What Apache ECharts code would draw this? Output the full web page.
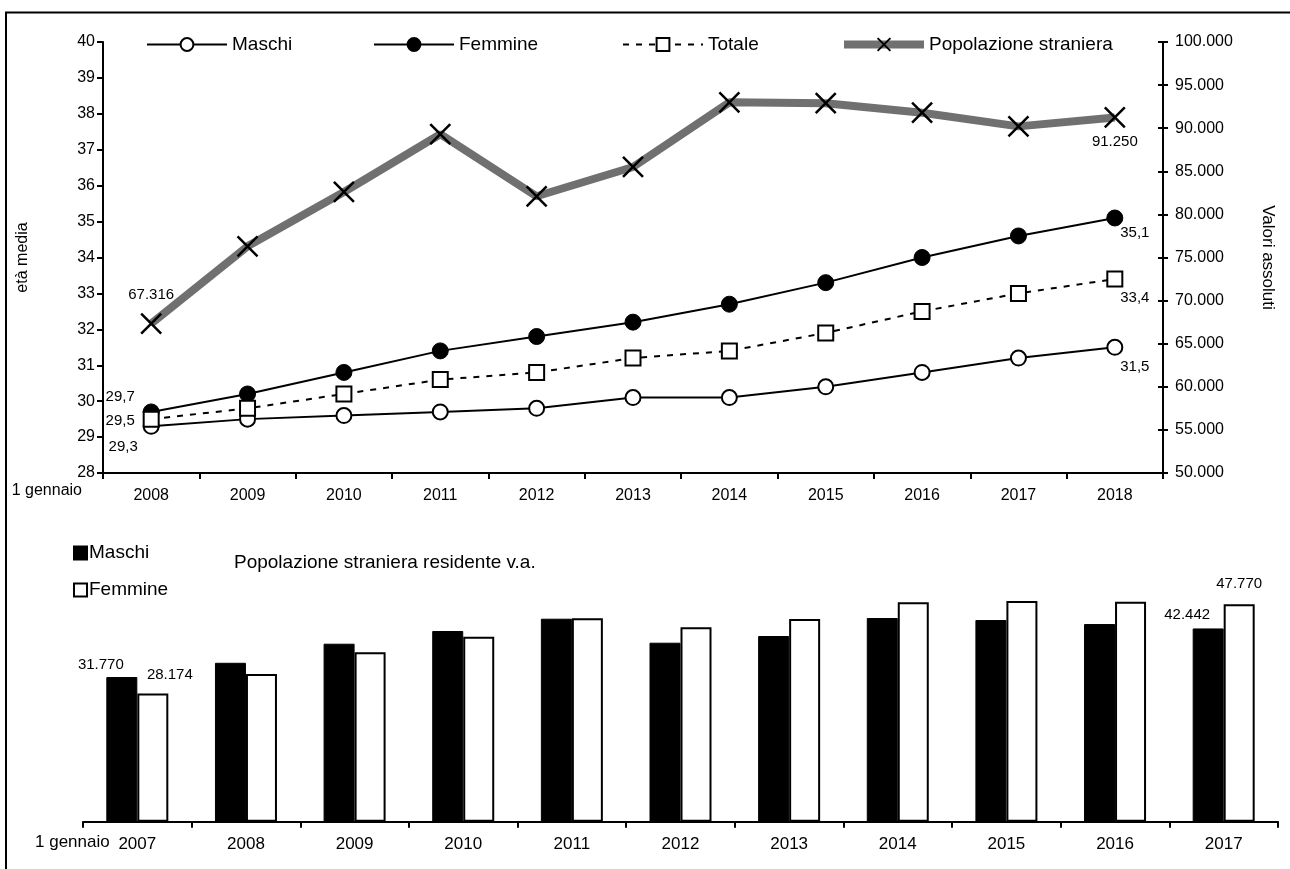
<!DOCTYPE html>
<html>
<head>
<meta charset="utf-8">
<script src="https://cdn.jsdelivr.net/npm/echarts@6/dist/echarts.min.js"></script>
<style>
html,body{margin:0;padding:0;background:#fff;}
#chart{width:1290px;height:869px;}
</style>
</head>
<body>
<div id="chart"></div>
<script>
// ---- Data ----
const years = ['2008','2009','2010','2011','2012','2013','2014','2015','2016','2017','2018'];
const maschiEta = [29.3,29.5,29.6,29.7,29.8,30.1,30.1,30.4,30.8,31.2,31.5];
const femmineEta = [29.7,30.2,30.8,31.4,31.8,32.2,32.7,33.3,34.0,34.6,35.1];
const totaleEta = [29.5,29.8,30.2,30.6,30.8,31.2,31.4,31.9,32.5,33.0,33.4];
const popStraniera = [67316,76300,82600,89300,82100,85500,93000,92900,91800,90212,91250];

const barYears = ['2007','2008','2009','2010','2011','2012','2013','2014','2015','2016','2017'];
const barMaschi = [31770,34900,39090,41880,44580,39310,40780,44730,44290,43410,42442];
const barFemmine = [28174,32440,37200,40630,44700,42690,44510,48180,48470,48310,47770];

const leftTicks = {min:28, max:40, interval:1};
const rightTicks = {min:50000, max:100000, interval:5000};

// ---- Helpers ----
const FONT = "'Liberation Sans', Arial, sans-serif";
const thou = v => String(Math.round(v)).replace(/\B(?=(\d{3})+(?!\d))/g, '.');
const dec = v => Number(v).toFixed(1).replace('.', ',');

function labelled(arr, idxOffsets, fmt) {
  return arr.map((v, i) => {
    if (idxOffsets[i] === undefined) return v;
    return {value: v, label: {show: true, position: 'inside', offset: idxOffsets[i],
      formatter: p => fmt(p.value), fontSize: 15, color: '#000', fontFamily: FONT}};
  });
}
const last = years.length - 1;
const mOff = {}; mOff[0] = [-28, 21]; mOff[last] = [20, 20];
const fOff = {}; fOff[0] = [-31, -15]; fOff[last] = [20, 15];
const tOff = {}; tOff[0] = [-31, 2]; tOff[last] = [20, 19];
const pOff = {}; pOff[0] = [0, -29]; pOff[last] = [0, 24];

function barLabelled(arr, offs) {
  return arr.map((v, i) => {
    if (offs[i] === undefined) return v;
    return {value: v, label: {show: true, position: 'top', offset: offs[i],
      formatter: p => thou(p.value), fontSize: 15, color: '#000', fontFamily: FONT}};
  });
}
const bmOff = {}; bmOff[0] = [-21, 0]; bmOff[barYears.length - 1] = [-21, -1];
const bfOff = {}; bfOff[0] = [17, -6]; bfOff[barYears.length - 1] = [0, -8];

const chart = echarts.init(document.getElementById('chart'), null, {renderer: 'canvas'});

const axisLineStyle = {color: '#000', width: 2};
const tickLabel = {color: '#000', fontSize: 16, fontFamily: FONT};
const tickLabelB = {color: '#000', fontSize: 17, fontFamily: FONT};
const xMark = 'path://M0,0L20,20M20,0L0,20';
const POP_GRAY = '#707070';

const legendText = {color: '#000', fontSize: 19, fontFamily: FONT};
function topLegend(name, left, extra) {
  return Object.assign({data: [name], left: left, top: 35, itemWidth: 80, itemHeight: 16, itemGap: 0,
    textStyle: legendText, padding: 0, selectedMode: false}, extra || {});
}

const option = {
  animation: false,
  backgroundColor: '#fff',
  textStyle: {fontFamily: FONT},
  graphic: [
    {type: 'rect', shape: {x: 6, y: 12.5, width: 1400, height: 1000},
     style: {fill: 'none', stroke: '#000', lineWidth: 2}, silent: true},
    {type: 'text', right: 1290 - 82, top: 483,
     style: {text: '1 gennaio', fill: '#000', font: '16px ' + FONT}},
    {type: 'text', left: 35, top: 834,
     style: {text: '1 gennaio', fill: '#000', font: '17px ' + FONT}},
    {type: 'text', left: 234, top: 553,
     style: {text: 'Popolazione straniera residente v.a.', fill: '#000', font: '19px ' + FONT}}
  ],
  legend: [
    topLegend('Maschi', 146),
    topLegend('Femmine', 373),
    topLegend('Totale', 622),
    topLegend('Popolazione straniera', 840, {lineStyle: {width: 8, color: POP_GRAY}}),
    {data: ['Maschi ', 'Femmine '], orient: 'vertical', left: 73, top: 542,
     itemWidth: 13, itemHeight: 13, itemGap: 15, icon: 'rect', padding: 0,
     selectedMode: false, formatter: n => n.trim(),
     textStyle: Object.assign({lineHeight: 22, padding: [0, 0, 0, -3]}, legendText)}
  ],
  grid: [
    {left: 103, right: 127, top: 42, height: 431},
    {left: 83, right: 12, top: 548.5, height: 273.2}
  ],
  xAxis: [
    {type: 'category', gridIndex: 0, data: years, boundaryGap: true,
     axisLine: {lineStyle: axisLineStyle},
     axisTick: {show: true, length: 6, lineStyle: {color: '#000', width: 2}},
     axisLabel: Object.assign({margin: 15}, tickLabel)},
    {type: 'category', gridIndex: 1, data: barYears, boundaryGap: true,
     axisLine: {lineStyle: axisLineStyle},
     axisTick: {show: true, length: 6, lineStyle: {color: '#000', width: 2}},
     axisLabel: Object.assign({margin: 14}, tickLabelB)}
  ],
  yAxis: [
    {type: 'value', gridIndex: 0, position: 'left', min: leftTicks.min, max: leftTicks.max,
     interval: leftTicks.interval, name: 'età media', nameLocation: 'middle', nameGap: 72,
     nameRotate: 90, nameTextStyle: {color: '#000', fontSize: 16, fontFamily: FONT},
     axisLine: {show: true, lineStyle: axisLineStyle},
     axisTick: {show: true, length: 6, lineStyle: {color: '#000', width: 2}},
     axisLabel: Object.assign({margin: 8}, tickLabel), splitLine: {show: false}},
    {type: 'value', gridIndex: 0, position: 'right', min: rightTicks.min, max: rightTicks.max,
     interval: rightTicks.interval, name: 'Valori assoluti', nameLocation: 'middle', nameGap: 96,
     nameRotate: -90, nameTextStyle: {color: '#000', fontSize: 17, fontFamily: FONT},
     axisLine: {show: true, lineStyle: axisLineStyle},
     axisTick: {show: true, length: 5, lineStyle: {color: '#000', width: 2}},
     axisLabel: Object.assign({margin: 12, formatter: v => thou(v)}, tickLabel),
     splitLine: {show: false}},
    {type: 'value', gridIndex: 0, position: 'right', min: rightTicks.min, max: rightTicks.max,
     interval: rightTicks.interval,
     axisLine: {show: false}, axisLabel: {show: false}, splitLine: {show: false},
     axisTick: {show: true, inside: true, length: 5, lineStyle: {color: '#000', width: 2}}},
    {type: 'value', gridIndex: 1, min: 0, max: 60000, show: false, splitLine: {show: false}}
  ],
  series: [
    {name: 'Popolazione straniera', type: 'line', xAxisIndex: 0, yAxisIndex: 1,
     data: labelled(popStraniera, pOff, thou), symbol: xMark, symbolSize: 20, showAllSymbol: true,
     lineStyle: {color: POP_GRAY, width: 8},
     itemStyle: {color: 'rgba(0,0,0,0)', borderColor: '#000', borderWidth: 2.5}, z: 2},
    {name: 'Maschi', type: 'line', xAxisIndex: 0, yAxisIndex: 0,
     data: labelled(maschiEta, mOff, dec), symbol: 'circle', symbolSize: 15, showAllSymbol: true,
     lineStyle: {color: '#000', width: 2},
     itemStyle: {color: '#fff', borderColor: '#000', borderWidth: 2}, z: 3},
    {name: 'Femmine', type: 'line', xAxisIndex: 0, yAxisIndex: 0,
     data: labelled(femmineEta, fOff, dec), symbol: 'circle', symbolSize: 16, showAllSymbol: true,
     lineStyle: {color: '#000', width: 2},
     itemStyle: {color: '#000', borderColor: '#000', borderWidth: 1}, z: 3},
    {name: 'Totale', type: 'line', xAxisIndex: 0, yAxisIndex: 0,
     data: labelled(totaleEta, tOff, dec), symbol: 'rect', symbolSize: 15, showAllSymbol: true,
     lineStyle: {color: '#000', width: 2, type: [6, 7]},
     itemStyle: {color: '#fff', borderColor: '#000', borderWidth: 2}, z: 3},
    {name: 'Maschi ', type: 'bar', xAxisIndex: 1, yAxisIndex: 3,
     data: barLabelled(barMaschi, bmOff), barWidth: 31, barGap: '0%',
     itemStyle: {color: '#000', borderColor: '#000', borderWidth: 1}},
    {name: 'Femmine ', type: 'bar', xAxisIndex: 1, yAxisIndex: 3,
     data: barLabelled(barFemmine, bfOff), barWidth: 31, barGap: '0%',
     itemStyle: {color: '#fff', borderColor: '#000', borderWidth: 2}}
  ]
};
chart.setOption(option);
</script>
</body>
</html>
